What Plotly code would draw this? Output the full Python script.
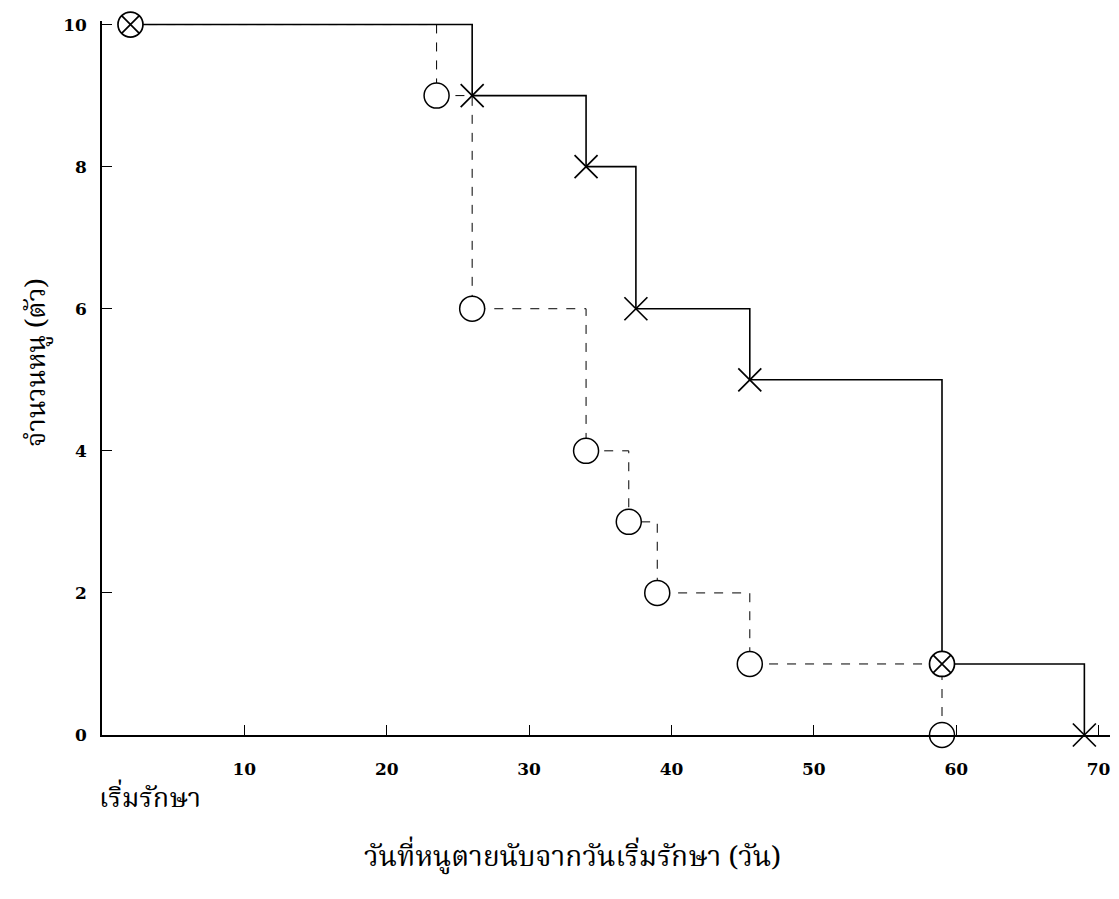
import plotly.graph_objects as go

# Solid line group (X markers)
solid_days = [2, 26, 34, 37.5, 45.5, 59, 69]
solid_alive = [10, 9, 8, 6, 5, 1, 0]

# Dashed line group (circle markers)
dashed_days = [2, 23.5, 26, 34, 37, 39, 45.5, 59]
dashed_alive = [10, 9, 6, 4, 3, 2, 1, 0]

# Points where both groups meet (crossed circle)
shared_days = [2, 59]
shared_alive = [10, 1]

x_ticks = [10, 20, 30, 40, 50, 60, 70]
y_ticks = [0, 2, 4, 6, 8, 10]

x_title = "วันที่หนูตายนับจากวันเริ่มรักษา (วัน)"
y_title = "จำนวนหนู (ตัว)"
start_label = "เริ่มรักษา"

THAI = "Noto Serif Thai, Noto Sans Thai, Loma, Garuda, Tlwg Typo, DejaVu Sans, sans-serif"
SERIF = "Century Schoolbook, DejaVu Serif, Liberation Serif, serif"

# figure sized so that, with the page's 8px body margin, it fills the window without scrollbars
OFF = 8
W, H = 1119 - 2 * OFF, 899 - 2 * OFF
ML, MR, MT, MB = 94, 1, 13, 156

fig = go.Figure()

fig.add_trace(go.Scatter(
    x=dashed_days, y=dashed_alive, mode="lines",
    line=dict(shape="hv", color="black", width=1, dash="dash"),
    hoverinfo="skip", showlegend=False, cliponaxis=False))

fig.add_trace(go.Scatter(
    x=solid_days, y=solid_alive, mode="lines",
    line=dict(shape="hv", color="black", width=1.6),
    hoverinfo="skip", showlegend=False, cliponaxis=False))

shared = set(zip(shared_days, shared_alive))

# open circles (dashed group), skipping the shared crossed-circle points
circ = [(d, a) for d, a in zip(dashed_days, dashed_alive) if (d, a) not in shared]
fig.add_trace(go.Scatter(
    x=[p[0] for p in circ], y=[p[1] for p in circ], mode="markers",
    marker=dict(symbol="circle", size=25, color="white",
                line=dict(color="black", width=1.5)),
    showlegend=False, cliponaxis=False))

# X markers (solid group)
xs = [(d, a) for d, a in zip(solid_days, solid_alive) if (d, a) not in shared]
fig.add_trace(go.Scatter(
    x=[p[0] for p in xs], y=[p[1] for p in xs], mode="markers",
    marker=dict(symbol="x-thin-open", size=23, color="black",
                line=dict(color="black", width=1.7)),
    showlegend=False, cliponaxis=False))

# crossed circles
fig.add_trace(go.Scatter(
    x=shared_days, y=shared_alive, mode="markers",
    marker=dict(symbol="circle-x", size=25, color="white",
                line=dict(color="black", width=1.7)),
    showlegend=False, cliponaxis=False))

fig.update_layout(
    width=W, height=H,
    margin=dict(l=ML, r=MR, t=MT, b=MB),
    paper_bgcolor="white", plot_bgcolor="white",
    font=dict(family=SERIF, color="black", size=17),
    xaxis=dict(range=[0, 70.8], tickvals=x_ticks, ticks="inside", ticklen=10,
               tickwidth=1.2, tickcolor="black", showline=True, linecolor="black",
               linewidth=1.5, showgrid=False, zeroline=False,
               tickfont=dict(family=SERIF, size=17, weight="bold"),
               ticklabelstandoff=18),
    yaxis=dict(range=[0, 10.05], tickvals=y_ticks, ticks="inside", ticklen=10,
               tickwidth=1.2, tickcolor="black", showline=True, linecolor="black",
               linewidth=1.5, showgrid=False, zeroline=False,
               tickfont=dict(family=SERIF, size=17, weight="bold"),
               ticklabelstandoff=10),
    annotations=[
        dict(text=start_label, x=97, y=800, xref="paper", yref="paper",
             showarrow=False, xanchor="left", yanchor="middle",
             font=dict(family=THAI, size=27)),
        dict(text=x_title, x=572, y=858, xref="paper", yref="paper",
             showarrow=False, xanchor="center", yanchor="middle",
             font=dict(family=THAI, size=28)),
        dict(text=y_title, x=37, y=363, xref="paper", yref="paper",
             showarrow=False, xanchor="center", yanchor="middle", textangle=-90,
             font=dict(family=THAI, size=27)),
    ],
)

# convert screen-pixel annotation positions to paper coordinates
pw = W - ML - MR
ph = H - MT - MB
for a in fig.layout.annotations:
    a.x = (a.x - OFF - ML) / pw
    a.y = 1 - (a.y - OFF - MT) / ph

fig.write_html("out.html")
